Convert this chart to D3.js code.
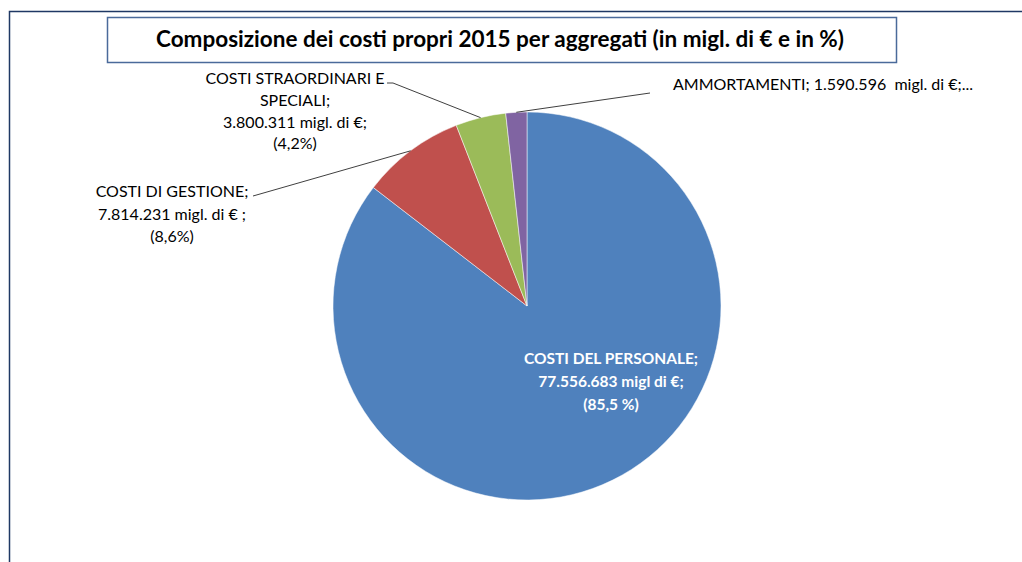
<!DOCTYPE html>
<html>
<head>
<meta charset="utf-8">
<script src="https://cdn.jsdelivr.net/npm/d3@7"></script>
<style>
  body { margin: 0; background: #fff; }
  svg text { font-family: Lato, "Open Sans", sans-serif; white-space: pre; }
</style>
</head>
<body>
<svg width="1022" height="562"></svg>
<script>
// data
var categories = ["COSTI DEL PERSONALE", "COSTI DI GESTIONE", "COSTI STRAORDINARI E SPECIALI", "AMMORTAMENTI"];
var values = [77556683, 7814231, 3800311, 1590596];
var colors = ["#4F81BD", "#C0504D", "#9BBB59", "#8064A2"];
// label text, as printed in the chart
var labelLines = [
  ["COSTI DEL PERSONALE;", "77.556.683 migl di €;", "(85,5 %)"],
  ["COSTI DI GESTIONE;", "7.814.231 migl. di € ;", "(8,6%)"],
  ["COSTI STRAORDINARI E", "SPECIALI;", "3.800.311 migl. di €;", "(4,2%)"],
  ["AMMORTAMENTI; 1.590.596  migl. di €;..."]
];

var svg = d3.select("svg"),
    width = +svg.attr("width"),
    height = +svg.attr("height");

// chart frame (only top and left edges visible)
svg.append("path")
    .attr("d", "M9.5,562 V11.5 H1022")
    .attr("fill", "none")
    .attr("stroke", "#1f3864")
    .attr("stroke-width", 1.5);

// title box
svg.append("rect")
    .attr("x", 107.5).attr("y", 17.5)
    .attr("width", 789).attr("height", 45)
    .attr("fill", "#fff")
    .attr("stroke", "#4a6a9a")
    .attr("stroke-width", 1.5);

svg.append("text")
    .attr("x", 500).attr("y", 47)
    .attr("text-anchor", "middle")
    .attr("font-weight", "bold")
    .attr("font-size", 22.5)
    .attr("fill", "#000")
    .text("Composizione dei costi propri 2015 per aggregati (in migl. di € e in %)");

var cx = 527, cy = 306, r = 194;

var pie = d3.pie().sort(null).value(function(d) { return d; });
var arc = d3.arc().innerRadius(0).outerRadius(r);
var arcs = pie(values);

var g = svg.append("g").attr("transform", "translate(" + cx + "," + cy + ")");

g.selectAll("path.slice")
  .data(arcs)
  .enter().append("path")
    .attr("class", "slice")
    .attr("d", arc)
    .attr("fill", function(d, i) { return colors[i]; })
    .attr("stroke", "#fff")
    .attr("stroke-width", 0.5);

// label placement (anchor x, first baseline y, line height, leader line start)
var labelPos = [
  {x: 611, y: 364, lh: 23, size: 15.5, anchor: "middle", color: "#fff", bold: true},
  {x: 172, y: 197, lh: 22.5, size: 16, anchor: "middle", color: "#000", lead: [253, 196]},
  {x: 295, y: 84, lh: 21.8, size: 16, anchor: "middle", color: "#000", lead: [387, 83]},
  {x: 673, y: 90, lh: 22, size: 16, anchor: "start", color: "#000", lead: [650, 93]}
];

// point on the pie edge at the middle of each slice
function edgePoint(d) {
  var a = (d.startAngle + d.endAngle) / 2;
  return [cx + Math.sin(a) * r, cy - Math.cos(a) * r];
}

arcs.forEach(function(d, i) {
  var p = labelPos[i];
  if (p.lead) {
    var e = edgePoint(d);
    var pts = [p.lead, e];
    if (i === 2) pts = [[p.lead[0], p.lead[1]], [p.lead[0] + 6, p.lead[1]], e];
    svg.append("path")
        .attr("d", d3.line()(pts))
        .attr("fill", "none")
        .attr("stroke", "#404040")
        .attr("stroke-width", 1);
  }
  var t = svg.append("text")
      .attr("text-anchor", p.anchor)
      .attr("font-size", p.size)
      .attr("font-weight", p.bold ? "bold" : "normal")
      .attr("fill", p.color);
  labelLines[i].forEach(function(line, j) {
    t.append("tspan")
        .attr("x", p.x)
        .attr("y", p.y + j * p.lh)
        .text(line);
  });
});
</script>
</body>
</html>
